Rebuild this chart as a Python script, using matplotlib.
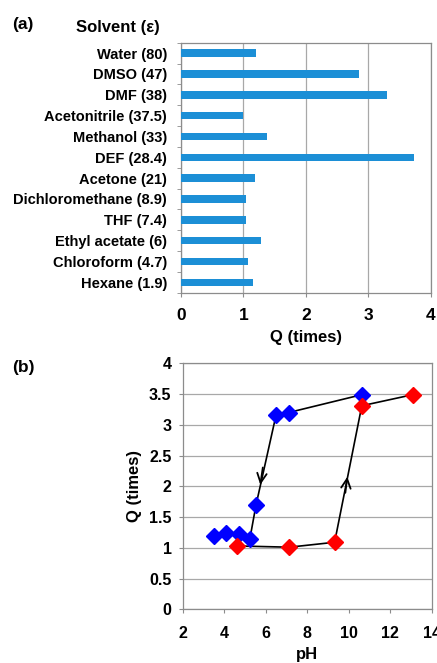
import matplotlib
matplotlib.use("Agg")
import matplotlib.pyplot as plt
import numpy as np

plt.rcParams['font.family'] = ['Liberation Sans', 'DejaVu Sans']
plt.rcParams['font.weight'] = 'bold'

solvents = ["Water (80)", "DMSO (47)", "DMF (38)", "Acetonitrile (37.5)", "Methanol (33)",
            "DEF (28.4)", "Acetone (21)", "Dichloromethane (8.9)", "THF (7.4)",
            "Ethyl acetate (6)", "Chloroform (4.7)", "Hexane (1.9)"]
q_solvent = [1.20, 2.85, 3.30, 1.00, 1.38, 3.74, 1.18, 1.04, 1.04, 1.28, 1.08, 1.15]

ph_blue = [3.52, 4.09, 4.70, 5.24, 5.53, 6.50, 7.11, 10.63]
q_blue = [1.20, 1.24, 1.22, 1.15, 1.69, 3.16, 3.20, 3.49]
ph_red = [4.62, 7.14, 9.32, 10.63, 13.08]
q_red = [1.03, 1.01, 1.09, 3.31, 3.49]

grid_c = '#a8a8a8'
spine_c = '#8c8c8c'

fig = plt.figure(figsize=(4.37, 6.63), dpi=100)

# ---- panel (a)
ax1 = fig.add_axes([0.414, 0.5585, 0.5716, 0.3771])
y = np.arange(len(solvents))
ax1.barh(y, q_solvent, height=0.36, color='#1c8fd6', zorder=3)
ax1.set_ylim(len(solvents) - 0.5, -0.5)
ax1.set_xlim(0, 4)
ax1.set_xticks([0, 1, 2, 3, 4])
ax1.set_yticks(y)
ax1.set_yticklabels(solvents, fontsize=10.5, fontweight='bold')
ax1.set_yticks(np.arange(-0.5, len(solvents), 1), minor=True)
ax1.tick_params(axis='y', which='major', length=0, pad=10)
ax1.tick_params(axis='y', which='minor', length=3, color=spine_c)
ax1.tick_params(axis='x', length=3, color=spine_c, labelsize=12.5, pad=8)
for lab in ax1.get_xticklabels():
    lab.set_fontweight('bold')
ax1.xaxis.grid(True, color=grid_c, linewidth=0.9, zorder=0)
for s in ax1.spines.values():
    s.set_color(spine_c)
    s.set_linewidth(0.9)
ax1.set_xlabel('Q (times)', fontsize=12, fontweight='bold', labelpad=5)

fig.text(0.027, 0.963, '(a)', fontsize=12.5, fontweight='bold', ha='left', va='center')
fig.text(0.27, 0.958, 'Solvent (ε)', fontsize=12, fontweight='bold', ha='center', va='center')

# ---- panel (b)
ax2 = fig.add_axes([0.418, 0.081, 0.570, 0.371])
ax2.plot(ph_red, q_red, color='black', linewidth=1.2, zorder=3)
ax2.plot(ph_blue[3:], q_blue[3:], color='black', linewidth=1.2, zorder=3)
ax2.plot(ph_blue, q_blue, linestyle='none', marker='D', markersize=8,
         color='#0000ff', zorder=4)
ax2.plot(ph_red, q_red, linestyle='none', marker='D', markersize=8,
         color='#ff0000', zorder=4)
# direction arrows on the hysteresis branches
ax2.annotate('', xy=(5.72, 1.98), xytext=(5.88, 2.35),
             arrowprops=dict(arrowstyle='->', color='black', lw=1.3,
                             mutation_scale=17), zorder=5)
ax2.annotate('', xy=(9.95, 2.2), xytext=(9.82, 1.85),
             arrowprops=dict(arrowstyle='->', color='black', lw=1.3,
                             mutation_scale=17), zorder=5)
ax2.set_xlim(2, 14)
ax2.set_ylim(0, 4)
ax2.set_xticks(np.arange(2, 15, 2))
ax2.set_yticks(np.arange(0, 4.01, 0.5))
ax2.set_yticklabels(['0', '0.5', '1', '1.5', '2', '2.5', '3', '3.5', '4'])
ax2.yaxis.grid(True, color=grid_c, linewidth=0.9, zorder=0)
ax2.tick_params(axis='y', length=3, color=spine_c, labelsize=11.5, pad=5)
ax2.tick_params(axis='x', length=3, color=spine_c, labelsize=11.5, pad=9)
for lab in ax2.get_xticklabels() + ax2.get_yticklabels():
    lab.set_fontweight('bold')
for s in ax2.spines.values():
    s.set_color(spine_c)
    s.set_linewidth(0.9)
ax2.set_xlabel('pH', fontsize=12, fontweight='bold', labelpad=4)
ax2.set_ylabel('Q (times)', fontsize=12, fontweight='bold', labelpad=5)

fig.text(0.027, 0.446, '(b)', fontsize=12.5, fontweight='bold', ha='left', va='center')

fig.savefig('out.png', dpi=100)
